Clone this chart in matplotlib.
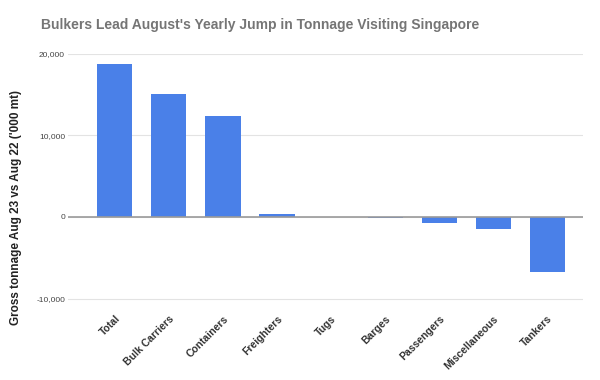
import numpy as np
import matplotlib.pyplot as plt

# gross tonnage change, Aug 23 vs Aug 22 ('000 mt)
categories = ['Total', 'Bulk Carriers', 'Containers', 'Freighters', 'Tugs',
              'Barges', 'Passengers', 'Miscellaneous', 'Tankers']
values = [18770, 15090, 12400, 370, 20, -100, -700, -1500, -6700]
yticks = [-10000, 0, 10000, 20000]

plt.rcParams['font.family'] = ['Liberation Sans', 'DejaVu Sans']

fig = plt.figure(figsize=(6, 3.8), dpi=100)
ax = fig.add_axes([0.113, 0.193, 0.858, 0.665])

x = np.arange(len(categories))
ax.bar(x, values, width=0.65, color='#4a80e8', zorder=3)

ax.set_xlim(-0.87, 8.65)
ax.set_ylim(-11000, 20000)
ax.set_yticks(yticks)
ax.set_yticklabels(['{:,}'.format(v) for v in yticks], fontsize=6, color='#444444')
ax.grid(axis='y', color='#e3e3e3', linewidth=0.8, zorder=0)
ax.axhline(0, color='#9a9a9a', linewidth=1.2, zorder=4)

ax.set_xticks(x)
ax.set_xticklabels(categories, rotation=45, ha='right', rotation_mode='anchor',
                   fontsize=7.5, fontweight='bold', color='#333333')
ax.tick_params(axis='y', length=0, pad=2)
ax.tick_params(axis='x', length=0, pad=5)

for s in ax.spines.values():
    s.set_visible(False)

ax.set_ylabel("Gross tonnage Aug 23 vs Aug 22 ('000 mt)", fontsize=8.5,
              fontweight='bold', color='#222222')
ax.yaxis.set_label_coords(-0.089, 0.394)

fig.text(0.068, 0.935, "Bulkers Lead August's Yearly Jump in Tonnage Visiting Singapore",
         fontsize=10, fontweight='bold', color='#757575', va='center', ha='left')

fig.savefig('out.png', dpi=100)
